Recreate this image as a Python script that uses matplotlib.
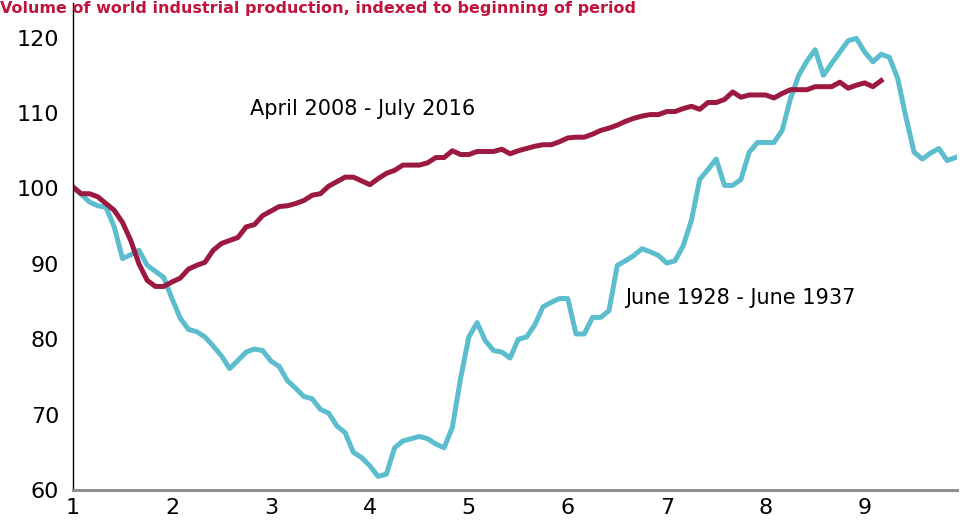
import matplotlib.pyplot as plt

# monthly index values (month 0 = start of period)
months_2008 = list(range(99))
ip_2008 = [100.2, 99.3, 99.3, 98.9, 98.0, 97.1, 95.5, 93.1, 90.0, 87.8,
           87.0, 87.0, 87.6, 88.1, 89.3, 89.8, 90.2, 91.8, 92.7, 93.1,
           93.5, 94.9, 95.2, 96.4, 97.0, 97.6, 97.7, 98.0, 98.4, 99.1,
           99.3, 100.3, 100.9, 101.5, 101.5, 101.0, 100.5, 101.3, 102.0, 102.4,
           103.1, 103.1, 103.1, 103.4, 104.1, 104.1, 105.0, 104.5, 104.5, 104.9,
           104.9, 104.9, 105.2, 104.6, 105.0, 105.3, 105.6, 105.8, 105.8, 106.2,
           106.7, 106.8, 106.8, 107.2, 107.7, 108.0, 108.4, 108.9, 109.3, 109.6,
           109.8, 109.8, 110.2, 110.2, 110.6, 110.9, 110.5, 111.4, 111.4, 111.8,
           112.8, 112.1, 112.4, 112.4, 112.4, 112.0, 112.6, 113.1, 113.1, 113.1,
           113.5, 113.5, 113.5, 114.1, 113.3, 113.7, 114.0, 113.5, 114.3]

months_1928 = list(range(108))
ip_1928 = [100.2, 99.2, 98.2, 97.7, 97.5, 94.9, 90.7, 91.2, 91.8, 89.8,
           89.0, 88.2, 85.4, 82.8, 81.3, 81.0, 80.3, 79.1, 77.8, 76.1,
           77.2, 78.3, 78.7, 78.5, 77.1, 76.4, 74.5, 73.5, 72.4, 72.1,
           70.7, 70.2, 68.5, 67.6, 65.0, 64.3, 63.2, 61.8, 62.1, 65.6,
           66.5, 66.8, 67.1, 66.8, 66.1, 65.6, 68.3, 74.8, 80.3, 82.2,
           79.8, 78.5, 78.3, 77.5, 80.0, 80.3, 81.9, 84.3, 84.9, 85.4,
           85.4, 80.7, 80.7, 82.9, 82.9, 83.8, 89.8, 90.4, 91.1, 92.0,
           91.6, 91.1, 90.1, 90.4, 92.4, 95.8, 101.2, 102.5, 103.9, 100.4,
           100.4, 101.2, 104.8, 106.1, 106.1, 106.1, 107.7, 111.9, 115.0, 116.9,
           118.4, 115.0, 116.6, 118.1, 119.6, 119.9, 118.1, 116.8, 117.8, 117.4,
           114.6, 109.5, 104.8, 103.9, 104.7, 105.3, 103.7, 104.1]

year_ticks = [0, 12, 24, 36, 48, 60, 72, 84, 96]
year_labels = ["1", "2", "3", "4", "5", "6", "7", "8", "9"]

fig = plt.figure(figsize=(9.6, 5.22), dpi=100)
ax = fig.add_axes([73 / 960, 1 - 490 / 522, (957 - 73) / 960, (490 - 3) / 522])

ax.plot(months_1928, ip_1928, color="#5bbdcd", lw=3.6, solid_joinstyle="round")
ax.plot(months_2008, ip_2008, color="#9c1a40", lw=3.6, solid_joinstyle="round")

ax.set_xlim(0, 107.2)
ax.set_ylim(60, 124.6)
ax.set_yticks([60, 70, 80, 90, 100, 110, 120])
ax.set_xticks(year_ticks)
ax.set_xticklabels(year_labels)
ax.tick_params(axis="both", length=0, labelsize=16, colors="black")
ax.tick_params(axis="y", pad=10)
ax.tick_params(axis="x", pad=6)

for side in ["top", "right"]:
    ax.spines[side].set_visible(False)
ax.spines["left"].set_linewidth(1.0)
ax.spines["left"].set_color("black")
ax.spines["bottom"].set_linewidth(2.2)
ax.spines["bottom"].set_color("#909090")

ax.text(21.5, 110.5, "April 2008 - July 2016", fontsize=15, va="center")
ax.text(67, 85.5, "June 1928 - June 1937", fontsize=15, va="center")

# title sits at the very top edge, partly above the plot
fig.text(0.0, 0.998, "Volume of world industrial production, indexed to beginning of period",
         color="#c0143c", fontsize=11.5, fontweight="bold", ha="left", va="top")

fig.savefig("out.png", dpi=100)
